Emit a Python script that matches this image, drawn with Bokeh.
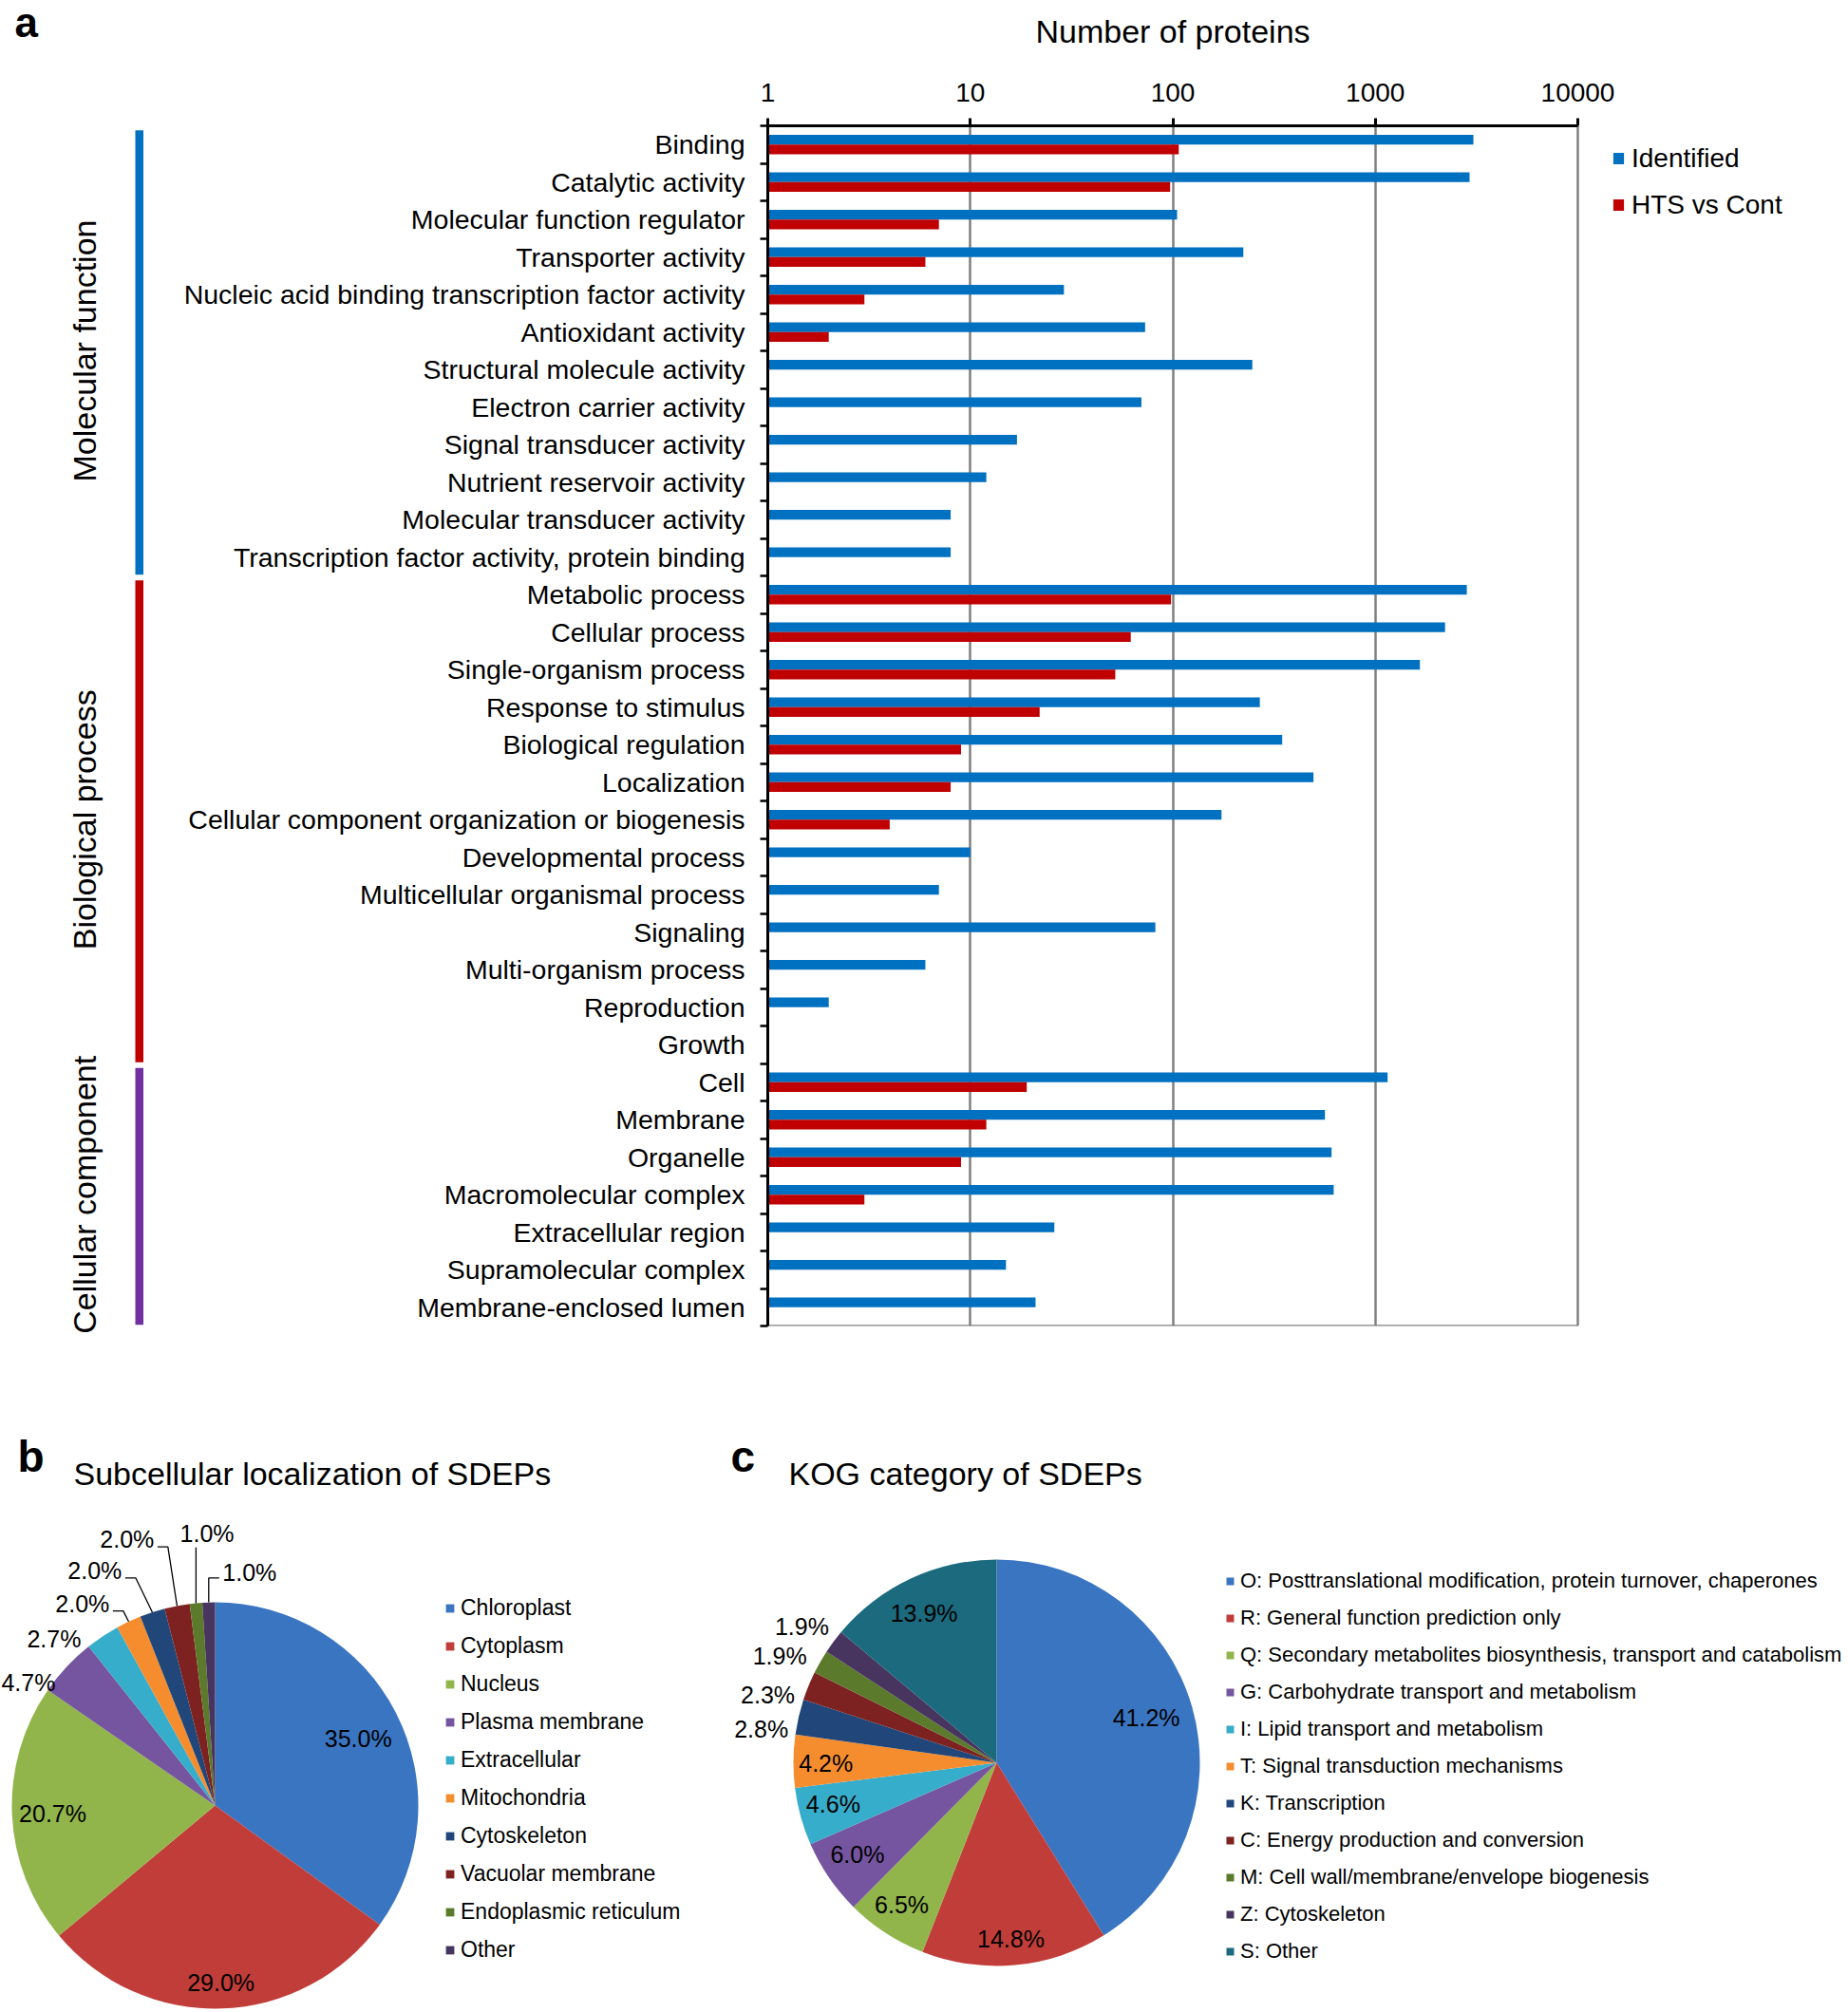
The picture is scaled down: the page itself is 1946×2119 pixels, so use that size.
import math
import numpy as np
from bokeh.plotting import figure
from bokeh.layouts import row, column
from bokeh.models import (Range1d, FixedTicker, PrintfTickFormatter, Legend, LegendItem,
                          ColumnDataSource, Spacer)
from bokeh.core.properties import value
from bokeh.embed import file_html
from bokeh.resources import INLINE

FONT = "Liberation Sans"

# ---------------- data: panel a ----------------
categories = ["Binding", "Catalytic activity", "Molecular function regulator", "Transporter activity",
              "Nucleic acid binding transcription factor activity", "Antioxidant activity",
              "Structural molecule activity", "Electron carrier activity", "Signal transducer activity",
              "Nutrient reservoir activity", "Molecular transducer activity",
              "Transcription factor activity, protein binding",
              "Metabolic process", "Cellular process", "Single-organism process", "Response to stimulus",
              "Biological regulation", "Localization", "Cellular component organization or biogenesis",
              "Developmental process", "Multicellular organismal process", "Signaling",
              "Multi-organism process", "Reproduction", "Growth",
              "Cell", "Membrane", "Organelle", "Macromolecular complex", "Extracellular region",
              "Supramolecular complex", "Membrane-enclosed lumen"]
identified = [3050, 2920, 105, 223, 29, 73, 247, 70, 17, 12, 8, 8,
              2830, 2210, 1660, 269, 347, 495, 174, 10, 7, 82, 6, 2, 0,
              1150, 564, 608, 623, 26, 15, 21]
hts_vs_cont = [107, 97, 7, 6, 3, 2, 0, 0, 0, 0, 0, 0,
               98, 62, 52, 22, 9, 8, 4, 0, 0, 0, 0, 0, 0,
               19, 12, 9, 3, 0, 0, 0]
groups = ["Molecular function", "Biological process", "Cellular component"]
group_sizes = [12, 13, 7]
x_ticks = [1, 10, 100, 1000, 10000]
x_title = "Number of proteins"

# ---------------- data: panel b ----------------
loc_names = ["Chloroplast", "Cytoplasm", "Nucleus", "Plasma membrane", "Extracellular",
             "Mitochondria", "Cytoskeleton", "Vacuolar membrane", "Endoplasmic reticulum", "Other"]
loc_pct = [35.0, 29.0, 20.7, 4.7, 2.7, 2.0, 2.0, 2.0, 1.0, 1.0]

# ---------------- data: panel c ----------------
kog_names = ["O: Posttranslational modification, protein turnover, chaperones",
             "R: General function prediction only",
             "Q: Secondary metabolites biosynthesis, transport and catabolism",
             "G: Carbohydrate transport and metabolism",
             "I: Lipid transport and metabolism",
             "T: Signal transduction mechanisms",
             "K: Transcription",
             "C: Energy production and conversion",
             "M: Cell wall/membrane/envelope biogenesis",
             "Z: Cytoskeleton",
             "S: Other"]
kog_pct = [41.2, 14.8, 6.5, 6.0, 4.6, 4.2, 2.8, 2.3, 1.9, 1.9, 13.9]

# ---------------- styles ----------------
BLUE, RED = "#0070C0", "#C00000"
GRID = "#808080"
group_colors = ["#0070C0", "#C00000", "#7030A0"]
pie_colors = ["#3A75C2", "#C13D39", "#91B54B", "#75559F", "#36ADCA", "#F58D2F",
              "#21477A", "#7D2220", "#5B7A2B", "#47355F", "#1B6A7E"]
# label placement styles (radius factor, angular nudge in degrees)
b_label_rf = [0.777, 0.87, 0.80, 1.10, 1.14, 1.19, 1.30, 1.38, 1.34, 1.16]
b_label_shift = [2.1, 0.1, -0.4, -9.7, -10.4, -8.1, -9.1, -7.5, 3.7, 10.2]
b_leader = [False, False, False, False, False, True, True, True, True, True]
c_label_rf = [0.77, 0.87, 0.84, 0.82, 0.83, 0.84, 1.17, 1.175, 1.19, 1.17, 0.82]
c_label_shift = [-1.0, 0.6, 0.7, 1.1, 1.1, -0.5, -4.9, -5.6, -3.5, -1.6, -0.8]

# page geometry (picture pixels)
TOTAL_W = 1938
S_H = 60                    # top strip: panel letter + axis title
TOP_H, BOT_H = 1448, 609    # bar row, pie row
G_W = 188
BAR_W = TOTAL_W - G_W
FR_TOP, FR_BOT = 72, 112    # frame offsets inside bar row
FR_LEFT = 620
AXIS_W = 853                # width of the 1..10000 axis in px
FR_W = BAR_W - FR_LEFT - 2  # frame also holds the legend area on the right

# ================= top strip =================
st = figure(width=TOTAL_W, height=S_H, x_range=Range1d(0, TOTAL_W), y_range=Range1d(S_H, 0),
            x_axis_location=None, y_axis_location=None, output_backend="svg", toolbar_location=None,
            min_border=0)
st.outline_line_color = None
st.grid.visible = False
st.text(x=[15], y=[23], text=["a"], text_align="left", text_baseline="middle",
        text_font=value(FONT), text_font_size=value("44px"), text_font_style="bold", text_color="black")
st.text(x=[G_W + FR_LEFT + AXIS_W / 2], y=[32], text=[x_title], text_align="center", text_baseline="middle",
        text_font=value(FONT), text_font_size=value("34px"), text_color="black")

# ================= panel a: bar chart =================
N = len(categories)
centers = [i + 0.5 for i in range(N)]
bounds = list(range(N + 1))
x_lo, x_hi = x_ticks[0], x_ticks[-1]
x_end = 10 ** (math.log10(x_hi) * FR_W / AXIS_W)

p = figure(width=BAR_W, height=TOP_H, x_axis_type="log", x_range=Range1d(x_lo, x_end),
           y_range=Range1d(N, 0), x_axis_location="above",
           output_backend="svg", toolbar_location=None,
           min_border_left=FR_LEFT, min_border_right=2, min_border_top=FR_TOP, min_border_bottom=FR_BOT)
p.outline_line_color = None

xa = p.xaxis[0]
xa.bounds = (x_lo, x_hi)
xa.ticker = FixedTicker(ticks=x_ticks, minor_ticks=[])
xa.formatter = PrintfTickFormatter(format="%d")
xa.axis_line_color = "black"
xa.axis_line_width = 3
xa.major_tick_line_color = "black"
xa.major_tick_line_width = 3
xa.major_tick_out = 8
xa.major_tick_in = 0
xa.minor_tick_line_color = None
xa.major_label_text_font = FONT
xa.major_label_text_font_size = "28px"
xa.major_label_text_color = "black"
xa.major_label_standoff = 18

ya = p.yaxis[0]
ya.ticker = FixedTicker(ticks=centers, minor_ticks=bounds)
ya.major_label_overrides = {c: name for c, name in zip(centers, categories)}
ya.major_tick_line_color = None
ya.major_tick_out = 0
ya.major_tick_in = 0
ya.minor_tick_line_color = "black"
ya.minor_tick_line_width = 2.5
ya.minor_tick_out = 8
ya.minor_tick_in = 0
ya.axis_line_color = "black"
ya.axis_line_width = 3
ya.major_label_text_font = FONT
ya.major_label_text_font_size = "28.5px"
ya.major_label_text_color = "black"
ya.major_label_standoff = 16

p.xgrid.ticker = FixedTicker(ticks=x_ticks[1:])
p.xgrid.grid_line_color = GRID
p.xgrid.grid_line_width = 2.5
p.ygrid.grid_line_color = None
# bottom border of the plotting area (axis extent)
p.segment(x0=[x_lo], x1=[x_hi], y0=[N], y1=[N], line_color=GRID, line_width=2.5)

bi = [i for i, v in enumerate(identified) if v > 0]
ri = [i for i, v in enumerate(hts_vs_cont) if v > 0]
src_b = ColumnDataSource(dict(y=[centers[i] - 0.13 for i in bi], right=[identified[i] for i in bi]))
src_r = ColumnDataSource(dict(y=[centers[i] + 0.13 for i in ri], right=[hts_vs_cont[i] for i in ri]))
r_b = p.hbar(y="y", left=x_lo, right="right", height=0.26, source=src_b, fill_color=BLUE, line_color=None)
r_r = p.hbar(y="y", left=x_lo, right="right", height=0.26, source=src_r, fill_color=RED, line_color=None)

leg = Legend(items=[LegendItem(label="Identified", renderers=[r_b]),
                    LegendItem(label="HTS vs Cont", renderers=[r_r])],
             location=(AXIS_W + 36, 1164), orientation="vertical",
             glyph_width=14, glyph_height=15, label_standoff=7,
             label_text_font=FONT, label_text_font_size="28px", label_text_color="black",
             label_height=33, spacing=16, padding=0, margin=0,
             border_line_color=None, background_fill_alpha=0)
p.add_layout(leg)

# ================= group decoration figure =================
unit = (TOP_H - FR_TOP - FR_BOT) / N
g = figure(width=G_W, height=TOP_H - FR_TOP, x_range=Range1d(0, G_W), y_range=Range1d(N + FR_BOT / unit, 0),
           x_axis_location=None, y_axis_location=None, output_backend="svg", toolbar_location=None,
           min_border=0)
g.outline_line_color = None
g.grid.visible = False
starts = np.cumsum([0] + group_sizes[:-1])
ends = np.cumsum(group_sizes)
g.quad(left=142, right=150.5, top=starts + 0.12, bottom=ends - 0.03, fill_color=group_colors, line_color=None)
g.text(x=88, y=(starts + ends) / 2, text=groups, angle=math.pi / 2, text_align="center",
       text_baseline="middle", text_font=value(FONT), text_font_size=value("34px"), text_color="black")


# ================= pies =================
def pie_angles(pcts):
    fr = np.cumsum([0.0] + list(pcts)) / sum(pcts)
    s, e = fr[:-1], fr[1:]
    mid = (s + e) / 2 * 360.0
    return np.pi / 2 - 2 * np.pi * e, np.pi / 2 - 2 * np.pi * s, mid


def make_pie(width, xr, yr, R, pcts, names, colors, rf, shift, leader, letter, letter_xy, title, title_xy,
             leg_loc, leg_font, leg_glyph, leg_lh, leg_sp):
    f = figure(width=width, height=BOT_H, x_range=Range1d(*xr), y_range=Range1d(*yr),
               x_axis_location=None, y_axis_location=None, output_backend="svg", toolbar_location=None,
               min_border=0)
    f.outline_line_color = None
    f.grid.visible = False
    sa, ea, mid = pie_angles(pcts)
    src = ColumnDataSource(dict(sa=sa, ea=ea, color=colors[:len(pcts)], name=names))
    w = f.wedge(x=0, y=0, radius=R, start_angle="sa", end_angle="ea", fill_color="color",
                line_color=None, source=src)
    th = np.radians(mid + np.array(shift))
    lx = np.array(rf) * R * np.sin(th)
    ly = np.array(rf) * R * np.cos(th)
    labels = ["%.1f%%" % v for v in pcts]
    f.text(x=lx, y=ly, text=labels, text_align="center", text_baseline="middle",
           text_font=value(FONT), text_font_size=value("25px"), text_color="black")
    # leader lines from the slice edge to its outside label
    xs, ys = [], []
    hw = 29
    for i, on in enumerate(leader):
        if not on:
            continue
        ex, ey = R * math.sin(math.radians(mid[i])), R * math.cos(math.radians(mid[i]))
        if lx[i] + hw < ex - 2:
            xs.append([lx[i] + hw + 3, lx[i] + hw + 14, ex])
            ys.append([ly[i] - 8, ly[i] - 8, ey])
        elif lx[i] - hw > ex + 2:
            xs.append([lx[i] - hw - 3, ex, ex])
            ys.append([ly[i] - 6, ly[i] - 6, ey])
        else:
            xs.append([ex, ex])
            ys.append([ly[i] - 15, ey])
    if xs:
        f.multi_line(xs=xs, ys=ys, line_color="black", line_width=1.3)
    f.text(x=[letter_xy[0]], y=[letter_xy[1]], text=[letter], text_align="left", text_baseline="middle",
           text_font=value(FONT), text_font_size=value("46px"), text_font_style="bold", text_color="black")
    f.text(x=[title_xy[0]], y=[title_xy[1]], text=[title], text_align="left", text_baseline="middle",
           text_font=value(FONT), text_font_size=value("34px"), text_color="black")
    items = [LegendItem(label=n, renderers=[w], index=i) for i, n in enumerate(names)]
    lg = Legend(items=items, location=leg_loc, orientation="vertical",
                glyph_width=leg_glyph, glyph_height=leg_glyph, label_standoff=6,
                label_text_font=FONT, label_text_font_size=leg_font, label_text_color="black",
                label_height=leg_lh, spacing=leg_sp, padding=0, margin=0,
                border_line_color=None, background_fill_alpha=0)
    f.add_layout(lg)
    return f


pb = make_pie(768, (-226, 542), (-216, 393), 214, loc_pct, loc_names, pie_colors,
              b_label_rf, b_label_shift, b_leader,
              "b", (-208, 368), "Subcellular localization of SDEPs", (-149, 349.5),
              (468, 50), "23px", 11, 26, 13)
pc = make_pie(1176, (-281, 895), (-261, 348), 214, kog_pct, kog_names, pie_colors,
              c_label_rf, c_label_shift, [False] * len(kog_pct),
              "c", (-280, 323), "KOG category of SDEPs", (-219, 304.5),
              (522, 49), "22px", 10, 25, 13)

layout = column(st,
                row(column(Spacer(width=G_W, height=FR_TOP), g), p),
                row(pb, pc))
open("out.html", "w").write(file_html(layout, INLINE))
